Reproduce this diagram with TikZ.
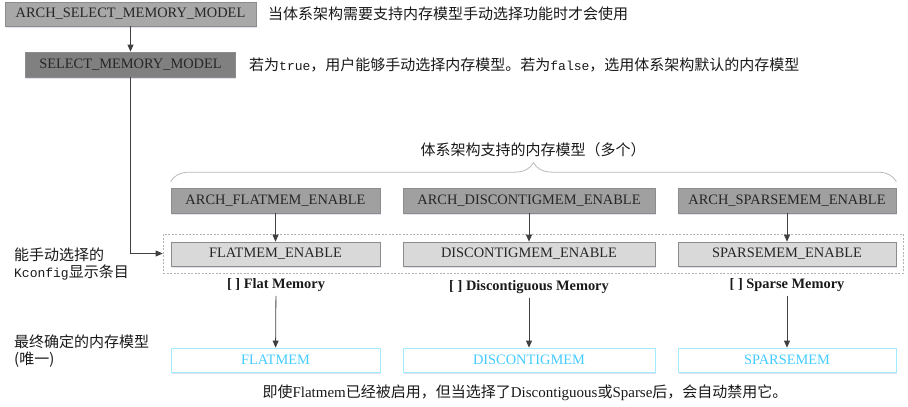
\documentclass[tikz,border=0pt]{standalone}
\usepackage{fontspec}
\setmainfont{Liberation Serif}
\newfontfamily\cjk{Noto Sans CJK SC}
\newfontfamily\monofnt{Liberation Mono}
\newfontfamily\latinserif{Liberation Serif}
\usetikzlibrary{shadows}
\usetikzlibrary{arrows.meta}
\usetikzlibrary{decorations.pathreplacing}

\definecolor{archgray}{HTML}{A8A8A8}
\definecolor{rowgray}{HTML}{A0A0A0}
\definecolor{selgray}{HTML}{808080}
\definecolor{enablegray}{HTML}{D9D9D9}
\definecolor{memcyan}{HTML}{45CCFF}
\definecolor{memborder}{HTML}{A3EBFF}
\definecolor{linegray}{HTML}{404040}

\newcommand{\zhtext}{\cjk\fontsize{15}{17}\selectfont}
\newcommand{\boxfont}{\fontsize{14.4}{17}\selectfont}
\newcommand{\monotext}{\monofnt\fontsize{13}{17}\selectfont}
\newcommand{\serifword}[1]{{\latinserif\fontsize{15}{17}\selectfont #1}}

\tikzset{boxshadow/.style={drop shadow={shadow xshift=0.6pt,shadow yshift=-1.6pt,opacity=0.18,fill=blue!25!gray}}}

\begin{document}
\begin{tikzpicture}[x=1pt,y=-1pt]
\useasboundingbox (0,0) rectangle (908,407);

% dashed frame round the Kconfig entries
\node [draw=gray!60,line width=0.7pt,dash pattern=on 2pt off 1.5pt,
       minimum width=740pt,minimum height=39pt,inner sep=0pt] (enablegrp) at (533,253.5) {};

\begin{scope}[every node/.style={draw=black!45,line width=0.7pt,text=black!85,font=\boxfont,
              minimum height=24pt,inner sep=0pt,boxshadow}]
    \node [fill=archgray,minimum width=251pt] (archsel) at (130.5,14) {ARCH\_SELECT\_MEMORY\_MODEL};
    \node [fill=selgray,minimum width=210pt,minimum height=25pt] (selmodel) at (130.5,64.5) {SELECT\_MEMORY\_MODEL};

    \node [fill=rowgray,minimum width=209pt,minimum height=25pt] (archflat) at (275.5,200.5) {ARCH\_FLATMEM\_ENABLE};
    \node [fill=rowgray,minimum width=252pt,minimum height=25pt] (archdisc) at (529,200.5) {ARCH\_DISCONTIGMEM\_ENABLE};
    \node [fill=rowgray,minimum width=218pt,minimum height=25pt] (archsparse) at (787,200.5) {ARCH\_SPARSEMEM\_ENABLE};

    \node [fill=enablegray,minimum width=209pt] (flaten) at (275.5,254) {FLATMEM\_ENABLE};
    \node [fill=enablegray,minimum width=252pt] (discen) at (529,254) {DISCONTIGMEM\_ENABLE};
    \node [fill=enablegray,minimum width=218pt] (sparseen) at (787,254) {SPARSEMEM\_ENABLE};
\end{scope}

\begin{scope}[every node/.style={draw=memborder,line width=0.8pt,fill=white,text=memcyan,font=\boxfont,
              minimum height=24pt,inner sep=0pt,boxshadow}]
    \node [minimum width=209pt] (flatmem) at (275.5,360) {FLATMEM};
    \node [minimum width=252pt] (discmem) at (529,360) {DISCONTIGMEM};
    \node [minimum width=218pt] (sparsemem) at (787,360) {SPARSEMEM};
\end{scope}

\begin{scope}[every node/.style={font=\bfseries\boxfont,text=black!90,inner sep=4pt}]
    \node (flatlbl) at (276,285) {[ ] Flat Memory};
    \node (disclbl) at (529,287) {[ ] Discontiguous Memory};
    \node (sparselbl) at (787,285) {[ ] Sparse Memory};
\end{scope}

\begin{scope}[every node/.style={font=\zhtext,text=black!90,inner sep=0pt}]
    \node [anchor=west] (archselnote) at (268,14) {当体系架构需要支持内存模型手动选择功能时才会使用};
    \node [anchor=west] (selnote) at (249,64.5) {若为{\monotext true}，用户能够手动选择内存模型。若为{\monotext false}，选用体系架构默认的内存模型};
    \node (multinote) at (533,150) {体系架构支持的内存模型（多个）};
    \node [anchor=west,align=left] (kconfignote) at (14,264.5) {能手动选择的\\{\monotext Kconfig}显示条目};
    \node [anchor=west,align=left] (finalnote) at (14,351.5) {最终确定的内存模型\\(唯一)};
    \node (disablenote) at (525,393) {即使\serifword{Flatmem}已经被启用，但当选择了\serifword{Discontiguous}或\serifword{Sparse}后，会自动禁用它。};
\end{scope}

% brace over the arch options
\draw [gray!55,line width=0.8pt,decorate,decoration={brace,amplitude=19pt}]
      ([yshift=6pt]archflat.north west) -- ([yshift=6pt]archsparse.north east);

\begin{scope}[>={Triangle[width=6pt,length=7pt]}]
     \draw [color=linegray,->,line width=0.8] (archsel) -- (selmodel);
     \draw [color=linegray,->,line width=0.8] (selmodel.south) |- (enablegrp.west);

     \draw [color=linegray,->,line width=0.8] (archflat) -- (flaten);
     \draw [color=linegray,->,line width=0.8] (archdisc) -- (discen);
     \draw [color=linegray,->,line width=0.8] (archsparse) -- (sparseen);

     \draw [color=linegray,->,line width=0.8] (flatlbl) -- (flatmem);
     \draw [color=linegray,->,line width=0.8] (disclbl) -- (discmem);
     \draw [color=linegray,->,line width=0.8] (sparselbl) -- (sparsemem);
\end{scope}
\end{tikzpicture}
\end{document}
